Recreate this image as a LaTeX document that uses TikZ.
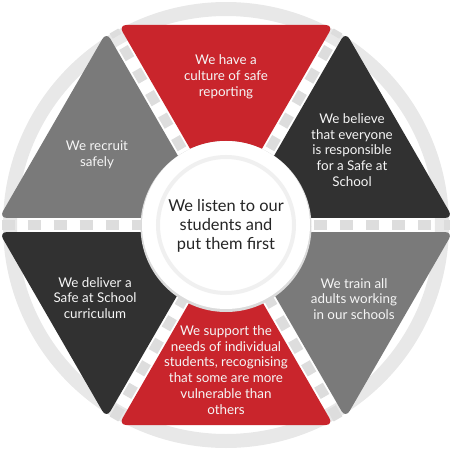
\documentclass[tikz,border=0pt]{standalone}
\usepackage{fontspec}
\setmainfont{Lato}
\usetikzlibrary{calc}

\definecolor{safered}{HTML}{C9252C}
\definecolor{safedark}{HTML}{313131}
\definecolor{safegrey}{HTML}{7A7A7A}
\definecolor{stripegrey}{HTML}{DDDDDD}
\definecolor{ringgrey}{HTML}{E8E8E8}

\begin{document}
\begin{tikzpicture}[x=1pt, y=1pt,
    pillar/.style={text=white!96!black, font=\fontsize{13.4}{15.8}\selectfont, align=center},
    hub/.style={text=black!85, font=\fontsize{16.4}{19.3}\selectfont, align=center}]

    \useasboundingbox (-226,-225) rectangle (226,225);

    %Outer ring
    \draw[ringgrey, line width=14pt] (0,0) circle (216);

    %Striped gaps between the pillars
    \foreach \a in {0,60,120}
    \draw[stripegrey, line width=10pt, dash pattern=on 13pt off 13pt] ({\a+180}:224) -- (\a:224);

    %Pillars (triangles of the hexagon)
    \foreach \a/\col in {0/safedark,60/safered,120/safegrey,180/safedark,240/safered,300/safegrey}{
        \coordinate (p) at (\a:231);
        \coordinate (q) at ({\a+60}:231);
        \fill[\col, rounded corners=8pt] ($(p)!8.1pt!(q)$) -- ($(q)!8.1pt!(p)$) -- ({\a+30}:14) -- cycle;
    }

    %Centre plate
    \fill[black!14] (0,-1.5) circle (85.5);
    \fill[white] (0,0) circle (84);
    \draw[black!6, line width=4pt] (0,0) circle (68);

    %Labels
    \node[hub] (listen) at (0,-1) {We listen to our\\students and\\put them first};
    \node[pillar] (report) at (0,148) {We have a\\culture of safe\\reporting};
    \node[pillar] (believe) at (126,75) {We believe\\that everyone\\is responsible\\for a Safe at\\School};
    \node[pillar] (recruit) at (-129,70) {We recruit\\safely};
    \node[pillar] (deliver) at (-131,-73) {We deliver a\\Safe at School\\curriculum};
    \node[pillar] (train) at (128,-74) {We train all\\adults working\\in our schools};
    \node[pillar] (support) at (0,-145) {We support the\\needs of individual\\students, recognising\\that some are more\\vulnerable than\\others};

\end{tikzpicture}
\end{document}
